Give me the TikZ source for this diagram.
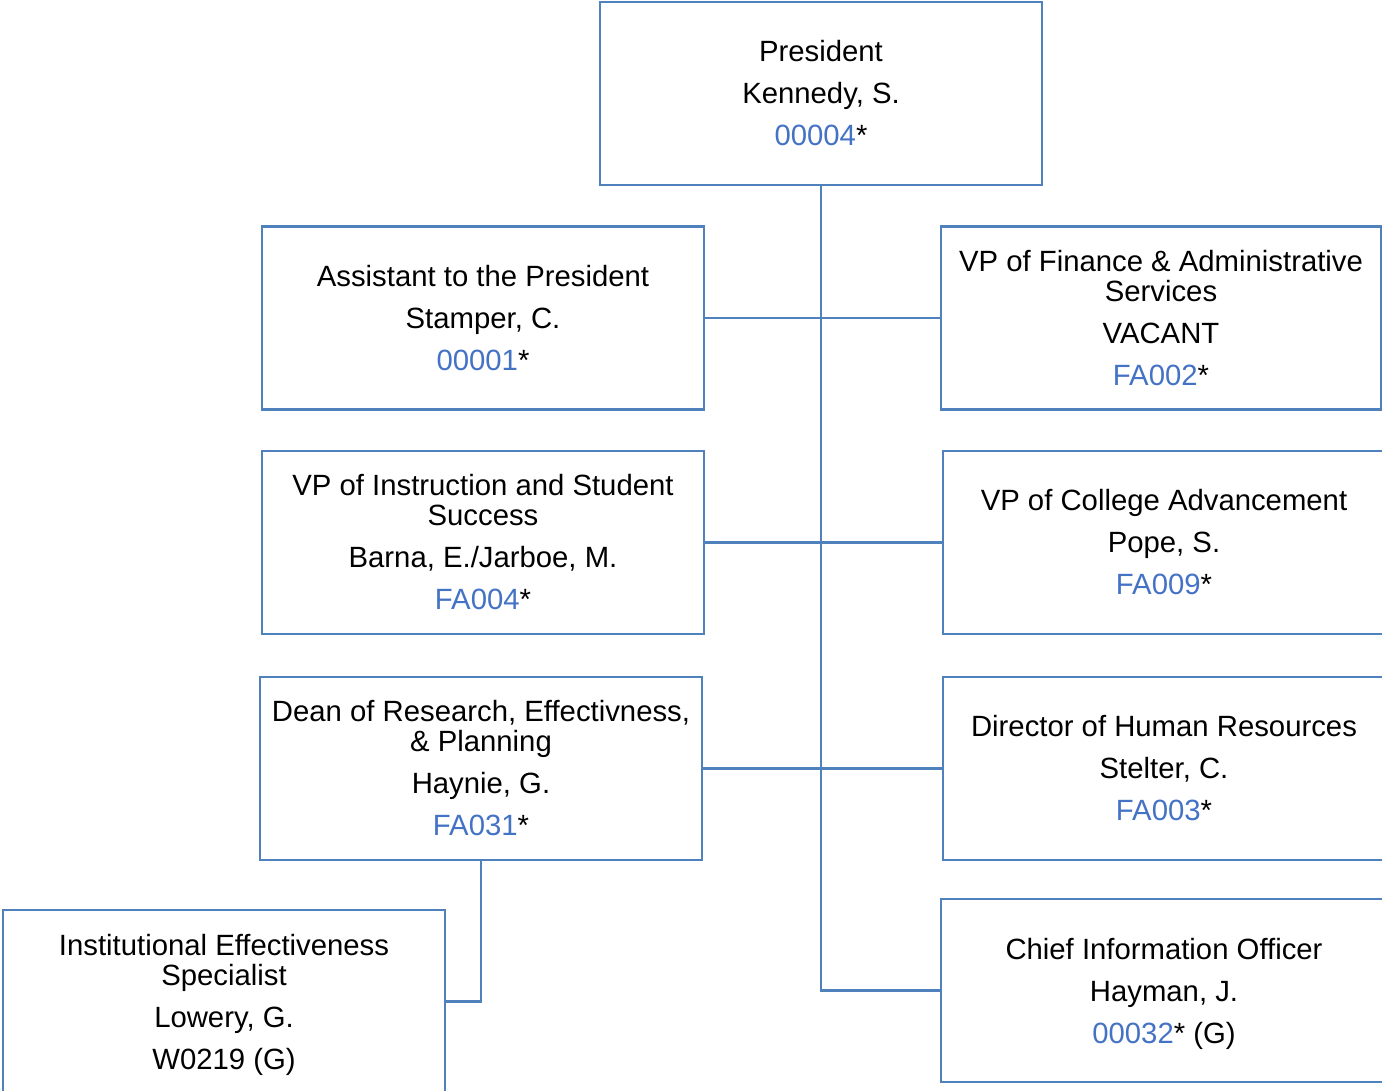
\documentclass[tikz,border=0pt]{standalone}
\usepackage{fontspec}
\setmainfont{Liberation Sans}
\definecolor{lineblue}{RGB}{79,129,189}
\definecolor{idblue}{RGB}{68,114,196}
\newcommand{\pid}[1]{\textcolor{idblue}{#1}}
\begin{document}
\begin{tikzpicture}[x=1pt,y=-1pt,
  orgbox/.style={draw=lineblue, line width=2.6pt, fill=white, minimum width=442pt, minimum height=183pt,
    align=center, inner sep=0pt, font=\fontsize{29.3}{30}\selectfont},
  link/.style={draw=lineblue, line width=2.6pt}]
\useasboundingbox (0,0) rectangle (1382,1091);
\clip (0,0) rectangle (1382,1091);
\fill[white] (0,0) rectangle (1382,1091);

\node[orgbox] (P) at (821,93.5) {President\\[12pt]Kennedy, S.\\[12pt]\pid{00004}*};

\node[orgbox] (A) at (483,318) {Assistant to the President\\[12pt]Stamper, C.\\[12pt]\pid{00001}*};
\node[orgbox] (B) at (483,542.5) {VP of Instruction and Student\\Success\\[12pt]Barna, E./Jarboe, M.\\[12pt]\pid{FA004}*};
\node[orgbox] (C) at (481,768.5) {Dean of Research, Effectivness,\\\& Planning\\[12pt]Haynie, G.\\[12pt]\pid{FA031}*};
\node[orgbox, text depth=0pt] (D) at (224,1001.5) {Institutional Effectiveness\\Specialist\\[12pt]Lowery, G.\\[12pt]W0219 (G)};

\node[orgbox, minimum width=440pt] (E) at (1161,318) {VP of Finance \& Administrative\\Services\\[12pt]VACANT\\[12pt]\pid{FA002}*};
\node[orgbox] (F) at (1164,542.5) {VP of College Advancement\\[12pt]Pope, S.\\[12pt]\pid{FA009}*};
\node[orgbox] (G) at (1164,768.5) {Director of Human Resources\\[12pt]Stelter, C.\\[12pt]\pid{FA003}*};
\node[orgbox, minimum width=446pt, text depth=0pt] (H) at (1164,990.5) {Chief Information Officer\\[12pt]Hayman, J.\\[12pt]\pid{00032}* (G)};

\draw[link] (P.south) -- (P.south |- H.west) -- (H.west);
\draw[link] (A.east) -- (E.west);
\draw[link] (B.east) -- (F.west);
\draw[link] (C.east) -- (G.west);
\draw[link] (C.south) -- (C.south |- D.east) -- (D.east);
\end{tikzpicture}
\end{document}
